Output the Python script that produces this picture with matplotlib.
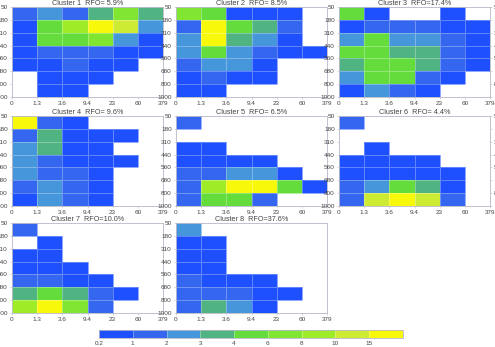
import numpy as np
import matplotlib
matplotlib.use("Agg")
import matplotlib.pyplot as plt
from matplotlib.colors import ListedColormap, BoundaryNorm

plt.rcParams['font.family'] = ['Liberation Sans', 'DejaVu Sans']

tau_labels = ['0', '1.3', '3.6', '9.4', '23', '60', '379']
pc_labels = ['50', '180', '310', '440', '560', '680', '800', '1000']
levels = [0.2, 1, 2, 3, 4, 6, 8, 10, 15, 20]
level_labels = ['0.2', '1', '2', '3', '4', '6', '8', '10', '15']
colors = ['#1e50ff', '#3466f0', '#4696dc', '#50b482', '#64dc3c',
          '#80e632', '#9eeb28', '#cdeb32', '#f8f80a']

titles = ['Cluster 1  RFO= 5.9%', 'Cluster 2  RFO= 8.5%', 'Cluster 3  RFO=17.4%',
          'Cluster 4  RFO= 9.6%', 'Cluster 5  RFO= 6.5%', 'Cluster 6  RFO= 4.4%',
          'Cluster 7  RFO=10.0%', 'Cluster 8  RFO=37.6%']

n = np.nan
# rows: pressure bins top (50-180) to bottom (800-1000); columns: tau bins
c1 = [[1.4, 2.5, 1.3, 3.5, 7.0, 3.4],
      [0.7, 5.0, 9.0, 17.0, 12.0, 2.4],
      [0.8, 5.2, 5.1, 7.0, 2.5, 0.6],
      [0.6, 1.3, 1.4, 1.3, 0.8, 0.7],
      [0.5, 0.6, 1.5, 0.7, 0.6, n],
      [n, 0.5, 0.6, 0.5, n, n],
      [n, 0.4, 0.5, n, n, n]]
c2 = [[7.2, 5.0, 0.6, 0.5, 0.4, n],
      [1.5, 17.5, 5.1, 3.5, 1.3, n],
      [2.4, 18.0, 3.6, 2.5, 0.7, n],
      [2.5, 5.2, 2.6, 1.4, 0.6, 0.5],
      [1.5, 2.4, 2.5, 0.7, n, n],
      [0.8, 1.3, 0.6, 0.5, n, n],
      [0.6, 0.5, n, n, n, n]]
c3 = [[5.0, 0.7, n, n, 0.6, n],
      [0.8, 1.4, 1.3, 1.3, 0.7, 0.6],
      [2.4, 5.3, 2.6, 2.5, 1.4, 0.7],
      [5.1, 5.4, 3.5, 3.6, 1.5, 0.8],
      [3.5, 5.6, 5.2, 3.4, 1.3, 0.7],
      [2.5, 5.4, 5.1, 1.4, 0.7, n],
      [0.8, 2.4, 1.3, 0.6, n, n]]
c4 = [[17.0, 1.5, 0.7, n, n, n],
      [1.3, 3.5, 0.8, 0.6, 0.5, n],
      [2.4, 3.6, 0.7, 0.6, n, n],
      [2.5, 1.4, 0.8, 0.7, 0.5, n],
      [2.5, 1.3, 1.2, 0.6, n, n],
      [1.4, 2.4, 1.3, 0.6, n, n],
      [0.8, 2.5, 1.2, 0.5, n, n]]
c5 = [[1.3, n, n, n, n, n],
      [n, n, n, n, n, n],
      [0.6, 0.7, n, n, n, n],
      [0.7, 0.8, 0.6, 0.5, n, n],
      [1.4, 1.5, 2.4, 2.5, 0.7, n],
      [1.3, 9.0, 17.0, 16.5, 5.2, 0.6],
      [1.2, 5.1, 5.3, 1.3, n, n]]
c6 = [[1.3, n, n, n, n, n],
      [n, n, n, n, n, n],
      [n, 0.5, n, n, n, n],
      [0.6, 0.7, 0.6, 0.5, n, n],
      [0.7, 0.8, 0.7, 0.6, 0.5, n],
      [1.4, 2.5, 5.2, 3.5, 0.7, n],
      [1.3, 12.0, 17.0, 11.5, 1.4, n]]
c7 = [[1.4, n, n, n, n, n],
      [n, 0.6, n, n, n, n],
      [0.7, 0.8, n, n, n, n],
      [0.7, 0.8, 0.6, n, n, n],
      [1.3, 1.4, 0.8, 0.6, n, n],
      [3.5, 5.2, 3.4, 1.3, 0.6, n],
      [9.0, 17.0, 7.0, 1.4, n, n]]
c8 = [[2.4, n, n, n, n, n],
      [0.8, 0.9, n, n, n, n],
      [0.8, 0.9, n, n, n, n],
      [0.7, 0.8, n, n, n, n],
      [1.3, 0.9, 0.8, 0.6, n, n],
      [1.4, 1.5, 1.3, 0.8, 0.6, n],
      [1.3, 3.5, 2.5, 0.7, n, n]]
clusters = [c1, c2, c3, c4, c5, c6, c7, c8]

W, H = 495, 347
fig = plt.figure(figsize=(W / 100, H / 100), dpi=100)
cmap = ListedColormap(colors)
norm = BoundaryNorm(levels, cmap.N)

col_left = [12, 176, 339]
row_top = [7, 116, 223]
pw, ph = 151, 90
fs = 4.6
tcol = '#444444'
scol = '#b8b8c8'

for k, data in enumerate(clusters):
    r, c = divmod(k, 3)
    l, t = col_left[c], row_top[r]
    ax = fig.add_axes([l / W, 1 - (t + ph) / H, pw / W, ph / H])
    arr = np.ma.masked_invalid(np.array(data, dtype=float))
    ax.pcolormesh(np.arange(len(tau_labels)), np.arange(len(pc_labels)), arr,
                  cmap=cmap, norm=norm, edgecolors=(1, 1, 1, 0.3), linewidth=0.5)
    ax.set_xlim(0, len(tau_labels) - 1)
    ax.set_ylim(len(pc_labels) - 1, 0)
    ax.set_xticks(range(len(tau_labels)))
    ax.set_xticklabels(tau_labels)
    ax.set_yticks(range(len(pc_labels)))
    ax.set_yticklabels(pc_labels)
    ax.tick_params(labelsize=fs, labelcolor=tcol, length=1.5, width=0.4,
                   color=scol, pad=1.5)
    if c == 2:
        ax.tick_params(axis='y', right=True, labelright=True)
    for s in ax.spines.values():
        s.set_color(scol)
        s.set_linewidth(0.6)
    ax.set_title(titles[k], fontsize=5.2, color=tcol, pad=1.5)

cax = fig.add_axes([99 / W, 1 - 338 / H, 304 / W, 8 / H])
sm = matplotlib.cm.ScalarMappable(norm=norm, cmap=cmap)
cb = fig.colorbar(sm, cax=cax, orientation='horizontal', spacing='uniform',
                  ticks=levels[:-1], drawedges=True)
cb.ax.set_xticklabels(level_labels)
cb.ax.minorticks_off()
cb.ax.tick_params(labelsize=fs, labelcolor=tcol, length=0, pad=2)
cb.outline.set_edgecolor(scol)
cb.outline.set_linewidth(0.6)
cb.dividers.set_color((1, 1, 1, 0.45))
cb.dividers.set_linewidth(0.5)

fig.savefig('out.png', dpi=100)
